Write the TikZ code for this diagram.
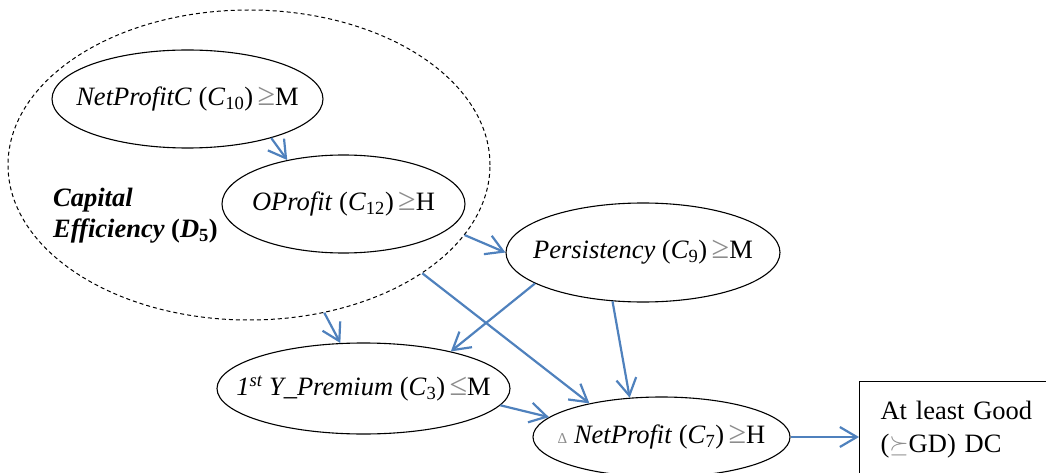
\documentclass[tikz,border=0pt]{standalone}
\usepackage{fontspec}
\setmainfont{Liberation Serif}
\usetikzlibrary{shapes.geometric,arrows.meta}
\definecolor{linkblue}{RGB}{79,129,189}
\newcommand{\critsub}[2]{(\textit{#1}\textsubscript{\upshape #2})}
\newcommand{\geqmark}{{\color{black!45}\fontsize{32}{31}\selectfont ≥}}
\newcommand{\leqmark}{{\color{black!45}\fontsize{32}{31}\selectfont ≤}}
\begin{document}
\begin{tikzpicture}[x=1pt, y=-1pt,
        crit/.style={draw, ellipse, line width=1.1pt, inner xsep=-30pt, inner ysep=-6pt, font=\fontsize{26.5}{31}\selectfont},
        link/.style={-{Straight Barb[length=17pt, width=20pt]}, linkblue, line width=2.2pt}]
        \clip (0, 0) rectangle (1046, 473);
        % the dimension and its criteria
        \node [draw, ellipse, dash pattern=on 4pt off 3pt, line width=1pt, minimum width=482, minimum height=310] (d5) at (249, 165) {};
        \node [crit, minimum width=271, minimum height=98] (npc) at (187.5, 99) {\textit{NetProfitC} \critsub{C}{10}\,\geqmark M\hspace{12pt}};
        \node [crit, minimum width=243, minimum height=98] (op) at (343.5, 204) {\textit{OProfit} \critsub{C}{12}\,\geqmark H\hspace{10pt}};
        \node [anchor=north west, inner sep=0pt, align=left, font=\fontsize{26.5}{31}\selectfont\bfseries\itshape] (d5name) at (53, 188) {Capital\\Efficiency {\upshape (}D\textsubscript{\upshape 5}{\upshape )}};
        \node [crit, minimum width=274, minimum height=99] (pers) at (643, 252.5) {\textit{Persistency} \critsub{C}{9}\,\geqmark M};
        \node [crit, minimum width=293, minimum height=91] (prem) at (363.5, 388.5) {\textit{1\textsuperscript{st} Y\_Premium} \critsub{C}{3}\,\leqmark M};
        \node [crit, minimum width=257, minimum height=80] (c7) at (661.5, 437) {{\color{black!45}\fontsize{15}{15}\selectfont Δ} \textit{NetProfit} \critsub{C}{7}\,\geqmark H\hspace{8pt}};
        \node [draw, line width=1.1pt, anchor=north west, align=left, text width=170, inner xsep=21pt, inner ysep=20pt, font=\fontsize{26.5}{33}\selectfont] (dc) at (859, 381) {At least Good\\({\color{black!45}$\succeq$}GD) DC};
        % influences
        \draw [link] (npc.-25.6) -- (op.142.5);
        \draw [link] (d5.-18.5) -- (pers.180);
        \draw [link] (d5.-63.4) -- (prem.117.3);
        \draw [link] (d5.-32.5) -- (c7.155.2);
        \draw [link] (pers.196.5) -- (prem.23);
        \draw [link] (pers.238.5) -- (c7.129.1);
        \draw [link] (prem.-7) -- (c7.170.2);
        \draw [link] (c7.east) -- (c7.east -| dc.west);
    \end{tikzpicture}
\end{document}
